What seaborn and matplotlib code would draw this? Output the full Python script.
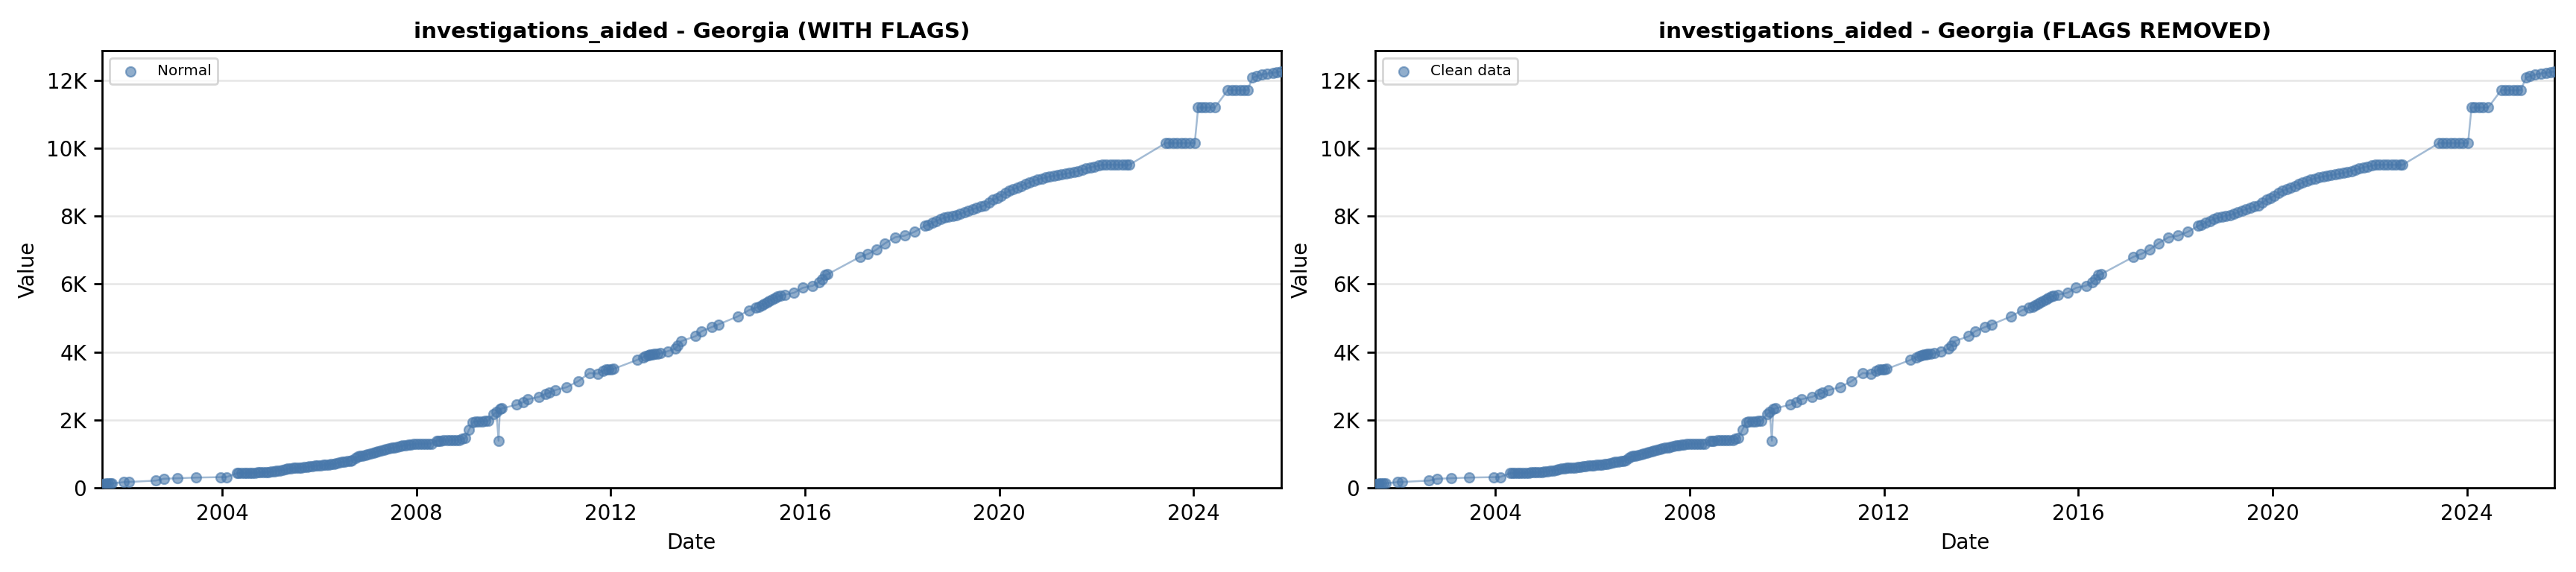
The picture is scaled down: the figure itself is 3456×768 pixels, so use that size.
import pandas as pd
import numpy as np
import seaborn as sns
import matplotlib.pyplot as plt
from matplotlib.ticker import FuncFormatter

# Values (cumulative count)
dates = [
    '2001-07-12', '2001-07-25', '2001-08-10', '2001-08-25', '2001-09-10', '2001-09-25',
    '2001-12-25', '2002-01-28', '2002-08-20', '2002-10-20', '2003-02-01', '2003-06-20',
    '2003-12-20', '2004-02-05', '2004-04-20', '2004-05-05',
    '2004-05-25', '2004-06-15', '2004-07-05', '2004-07-25', '2004-08-15', '2004-09-05',
    '2004-09-25', '2004-10-15', '2004-11-05', '2004-11-25', '2004-12-15', '2005-01-05',
    '2005-01-25', '2005-02-15', '2005-03-10', '2005-04-01', '2005-04-20', '2005-05-10',
    '2005-06-01', '2005-06-20', '2005-07-10', '2005-08-01', '2005-08-20', '2005-09-10',
    '2005-10-01', '2005-10-20', '2005-11-10', '2005-12-01', '2005-12-20', '2006-01-10',
    '2006-02-01', '2006-02-20', '2006-03-10', '2006-04-01', '2006-04-20', '2006-05-10',
    '2006-06-01', '2006-06-20', '2006-07-10', '2006-08-01', '2006-08-20', '2006-09-05',
    '2006-10-01', '2006-10-15', '2006-11-01', '2006-11-20', '2006-12-10', '2007-01-01',
    '2007-01-20', '2007-02-10', '2007-03-01', '2007-03-20', '2007-04-10', '2007-05-01',
    '2007-05-20', '2007-06-10', '2007-07-01', '2007-07-20', '2007-08-10', '2007-09-01',
    '2007-09-20', '2007-10-10', '2007-11-01', '2007-11-20', '2007-12-10', '2008-01-01',
    '2008-01-25', '2008-02-15', '2008-03-10', '2008-04-01', '2008-04-25', '2008-06-01',
    '2008-06-15', '2008-07-01', '2008-07-25', '2008-08-20', '2008-09-10', '2008-10-01',
    '2008-10-25', '2008-11-20', '2008-12-10', '2009-01-01', '2009-02-01', '2009-03-01',
    '2009-03-20', '2009-04-15', '2009-05-10', '2009-06-01', '2009-06-25', '2009-08-05',
    '2009-08-25', '2009-09-10', '2009-09-20', '2009-10-05', '2010-01-25', '2010-03-15',
    '2010-04-20', '2010-07-10', '2010-09-01', '2010-09-25', '2010-11-10', '2011-02-05',
    '2011-05-01', '2011-07-25', '2011-09-25', '2011-11-05', '2011-11-25', '2011-12-15',
    '2012-01-05', '2012-01-20', '2012-07-20', '2012-09-01', '2012-09-20', '2012-10-10',
    '2012-10-25', '2012-11-10', '2012-11-25', '2012-12-15', '2013-01-10', '2013-03-05',
    '2013-05-01', '2013-05-20', '2013-06-15', '2013-09-30', '2013-11-15', '2014-01-30',
    '2014-03-20', '2014-08-15', '2014-11-05', '2014-12-25', '2015-01-20', '2015-02-10',
    '2015-03-01', '2015-03-20', '2015-04-10', '2015-05-01', '2015-05-20', '2015-06-10',
    '2015-07-01', '2015-08-01', '2015-10-12', '2015-12-15', '2016-02-28', '2016-04-15',
    '2016-05-10', '2016-06-01', '2016-06-20', '2017-02-20', '2017-04-15', '2017-06-20',
    '2017-08-25', '2017-11-10', '2018-01-20', '2018-04-05', '2018-06-20', '2018-07-15',
    '2018-08-15', '2018-09-15', '2018-10-15', '2018-11-15', '2018-12-15', '2019-01-15',
    '2019-02-15', '2019-03-15', '2019-04-15', '2019-05-15', '2019-06-15', '2019-07-15',
    '2019-08-15', '2019-09-15', '2019-10-15', '2019-11-15', '2019-12-15', '2020-01-15',
    '2020-02-15', '2020-03-15', '2020-04-15', '2020-05-15', '2020-06-15', '2020-07-15',
    '2020-08-15', '2020-09-15', '2020-10-15', '2020-11-15', '2020-12-15', '2021-01-15',
    '2021-02-15', '2021-03-15', '2021-04-15', '2021-05-15', '2021-06-15', '2021-07-15',
    '2021-08-15', '2021-09-15', '2021-10-15', '2021-11-15', '2021-12-15', '2022-01-15',
    '2022-02-15', '2022-03-15', '2022-04-15', '2022-05-15', '2022-06-15', '2022-07-15',
    '2022-08-15', '2022-09-05',
    '2023-06-05', '2023-07-01', '2023-08-01', '2023-09-01', '2023-10-01', '2023-11-01',
    '2023-12-01', '2024-01-10', '2024-02-05', '2024-03-01', '2024-04-01', '2024-05-01',
    '2024-06-10', '2024-09-15', '2024-10-15', '2024-11-15', '2024-12-15', '2025-01-15',
    '2025-02-10', '2025-03-20', '2025-04-20', '2025-05-30', '2025-07-10', '2025-08-20',
    '2025-09-20', '2025-10-20',
]
values = [
    110, 120, 125, 130, 130, 135,
    170, 175, 215, 270, 285, 305,
    315, 320, 430, 435,
    440, 440, 442, 445, 447, 450,
    452, 455, 458, 462, 468, 480,
    495, 505, 515, 530, 548, 565,
    580, 588, 592, 598, 605, 612,
    620, 630, 642, 652, 660, 668,
    675, 683, 690, 700, 712, 725,
    745, 765, 780, 790, 800, 805,
    880, 915, 935, 955, 975, 995,
    1020, 1040, 1060, 1080, 1100, 1120,
    1140, 1160, 1180, 1195, 1215, 1235,
    1250, 1262, 1270, 1280, 1288, 1295,
    1300, 1298, 1300, 1302, 1305, 1385,
    1390, 1392, 1395, 1398, 1400, 1402,
    1405, 1410, 1440, 1465, 1720, 1940,
    1950, 1955, 1960, 1965, 1975, 2175,
    2230, 1390, 2320, 2340, 2450, 2525,
    2610, 2680, 2770, 2800, 2880, 2965,
    3140, 3380, 3365, 3455, 3480, 3490,
    3495, 3500, 3770, 3850, 3880, 3900,
    3920, 3930, 3940, 3945, 3960, 4025,
    4100, 4180, 4320, 4465, 4610, 4735,
    4810, 5050, 5230, 5300, 5340, 5380,
    5420, 5460, 5510, 5550, 5590, 5630,
    5650, 5690, 5745, 5890, 5950, 6060,
    6150, 6270, 6290, 6805, 6880, 7010,
    7200, 7380, 7425, 7540, 7710, 7750,
    7800, 7860, 7910, 7955, 7980, 8010,
    8030, 8070, 8110, 8160, 8200, 8240,
    8280, 8320, 8400, 8480, 8540, 8600,
    8680, 8745, 8790, 8840, 8890, 8940,
    8990, 9040, 9080, 9110, 9140, 9170,
    9185, 9210, 9230, 9250, 9270, 9300,
    9330, 9365, 9400, 9440, 9460, 9490,
    9510, 9515, 9515, 9515, 9510, 9510,
    9510, 9510,
    10150, 10150, 10150, 10150, 10150, 10150,
    10150, 10150, 11200, 11200, 11200, 11200,
    11200, 11710, 11710, 11710, 11710, 11710,
    11710, 12075, 12120, 12170, 12200, 12220,
    12240, 12260,
]

metric = 'investigations_aided'
state = 'Georgia'
panel_titles = ['WITH FLAGS', 'FLAGS REMOVED']
legend_labels = ['Normal', 'Clean data']

df = pd.DataFrame({'date': pd.to_datetime(dates), 'value': values})

sns.set_style('white')
plt.rcParams['font.family'] = ['DejaVu Sans']
plt.rcParams['text.color'] = 'black'
plt.rcParams['axes.labelcolor'] = 'black'
plt.rcParams['xtick.color'] = 'black'
plt.rcParams['ytick.color'] = 'black'

color = '#4878ab'


def k_fmt(v, pos):
    if v == 0:
        return '0'
    return f'{v / 1000:.0f}K'


fig, axes = plt.subplots(1, 2, figsize=(17.28, 3.84), dpi=200)
fig.subplots_adjust(left=0.0396, right=0.9916, bottom=0.147, top=0.9115, wspace=0.08)

for ax, title, lab in zip(axes, panel_titles, legend_labels):
    sns.lineplot(data=df, x='date', y='value', ax=ax, color=color, alpha=0.5,
                 linewidth=0.9, legend=False, zorder=2)
    sns.scatterplot(data=df, x='date', y='value', ax=ax, color=color, alpha=0.6,
                    s=22, edgecolor=color, linewidth=0.8, label=lab, zorder=3)
    ax.set_title(f'{metric} - {state} ({title})', fontsize=10.6, fontweight='bold',
                 color='black')
    ax.set_xlabel('Date', fontsize=10)
    ax.set_ylabel('Value', fontsize=10)
    ax.set_xlim(df['date'].min(), df['date'].max())
    ax.set_ylim(0, df['value'].max() * 1.05)
    ax.yaxis.set_major_formatter(FuncFormatter(k_fmt))
    ax.grid(axis='y', color='#e6e6e6', linewidth=0.9)
    ax.set_axisbelow(True)
    ax.tick_params(axis='both', labelsize=10, length=4, width=1, color='black',
                   labelcolor='black', left=True, bottom=True)
    for sp in ax.spines.values():
        sp.set_color('black')
        sp.set_linewidth(1.0)
    ax.legend(loc='upper left', fontsize=7.2, frameon=True)

fig.savefig('out.png', dpi=200)
